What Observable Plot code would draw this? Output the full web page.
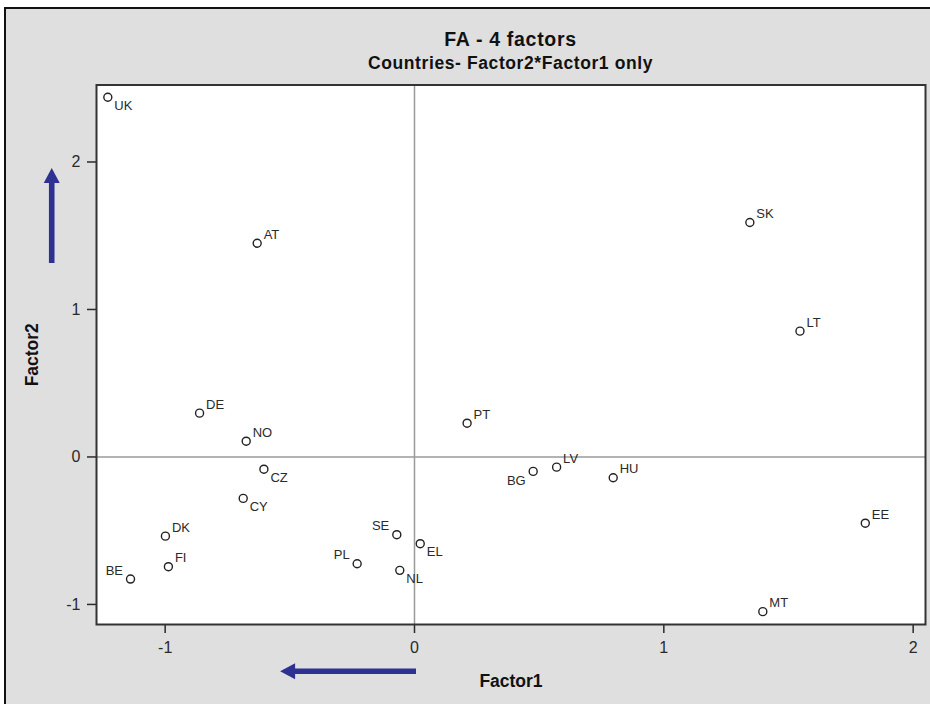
<!DOCTYPE html>
<html>
<head>
<meta charset="utf-8">
<script src="https://cdn.jsdelivr.net/npm/d3@7"></script>
<script src="https://cdn.jsdelivr.net/npm/@observablehq/plot@0.6"></script>
<style>
  html, body { margin: 0; padding: 0; background: #ffffff; }
  body { width: 930px; height: 704px; position: relative; overflow: hidden;
         font-family: "Liberation Sans", Arial, Helvetica, sans-serif; }
  #bg { position: absolute; left: 4px; top: 7px; right: 0; bottom: 0;
        background: #dfdfdf; border-left: 2px solid #111; border-top: 2px solid #111; }
  .ttl { position: absolute; left: 96px; width: 829px; text-align: center;
         font-weight: bold; color: #111; white-space: nowrap; }
  #title { top: 29.5px; font-size: 19.5px; line-height: 19.5px; letter-spacing: 0.7px; }
  #subtitle { top: 55px; font-size: 17.5px; line-height: 17.5px; letter-spacing: 0.6px; }
  #chart { position: absolute; left: 0; top: 80px; }
  g[aria-label="point-label"] text { letter-spacing: 0.8px; }
  g[aria-label="axis-title"] text { letter-spacing: 0.6px; }
</style>
</head>
<body>
<div id="bg"></div>
<div id="title" class="ttl">FA - 4 factors</div>
<div id="subtitle" class="ttl">Countries- Factor2*Factor1 only</div>
<div id="chart"></div>
<script>
// ---- data ----
const countries = ["UK","AT","SK","LT","DE","NO","PT","CZ","LV","BG","HU","CY","DK","SE","EL","EE","PL","FI","NL","BE","MT"];
const factor1 = [-1.230,-0.631,1.345,1.546,-0.862,-0.675,0.211,-0.604,0.570,0.476,0.797,-0.687,-0.999,-0.071,0.023,1.808,-0.230,-0.987,-0.059,-1.139,1.397];
const factor2 = [2.439,1.449,1.590,0.853,0.297,0.107,0.229,-0.083,-0.069,-0.098,-0.141,-0.281,-0.537,-0.527,-0.588,-0.449,-0.724,-0.744,-0.769,-0.828,-1.049];
// label side relative to its point: ur = upper right, lr = lower right, ul = upper left, ll = lower left
const labelSide = ["lr","ur","ur","ur","ur","ur","ur","lr","ur","ll","ur","lr","ur","ul","lr","ur","ul","ur","lr","ul","ur"];
const xTicks = [-1, 0, 1, 2];
const yTicks = [-1, 0, 1, 2];
const xDomain = [-1.2754, 2.0495];
const yDomain = [-1.136, 2.522];
const xLabel = "Factor1";
const yLabel = "Factor2";
// direction arrows (data coordinates, from tail to tip)
const arrowTail = [[0.008, -1.456], [-1.453, 1.312]];
const arrowTip  = [[-0.537, -1.456], [-1.453, 1.956]];

const rows = countries.map((c, i) => ({country: c, f1: factor1[i], f2: factor2[i], side: labelSide[i]}));

const font = '"Liberation Sans", Arial, Helvetica, sans-serif';
const sideOpts = {
  ur: {textAnchor: "start", dx: 6.5, dy: -8.5},
  lr: {textAnchor: "start", dx: 6.5, dy: 8.5},
  ul: {textAnchor: "end", dx: -7.5, dy: -8.5},
  ll: {textAnchor: "end", dx: -7.5, dy: 9}
};
const labelMarks = Object.keys(sideOpts).map(s =>
  Plot.text(rows.filter(d => d.side === s), {
    x: "f1", y: "f2", text: "country", ...sideOpts[s],
    fontSize: 13, fill: "#2a2a2a", ariaLabel: "point-label"
  })
);

const plot = Plot.plot({
  width: 930, height: 624,
  marginLeft: 96, marginRight: 5, marginTop: 4.5, marginBottom: 80,
  x: {domain: xDomain},
  y: {domain: yDomain},
  style: {background: "transparent", fontFamily: font, overflow: "visible"},
  marks: [
    Plot.frame({fill: "white"}),
    Plot.ruleX([0], {stroke: "#9a9a9a", strokeWidth: 1.5}),
    Plot.ruleY([0], {stroke: "#9a9a9a", strokeWidth: 1.5}),
    Plot.axisX({ticks: xTicks, tickSize: 9, tickPadding: 8, tickFormat: d => String(d),
                fontSize: 16, color: "#2a2a2a", strokeWidth: 1.5, label: null}),
    Plot.axisY({ticks: yTicks, tickSize: 9, tickPadding: 7, tickFormat: d => String(d),
                fontSize: 16, color: "#2a2a2a", strokeWidth: 1.5, label: null}),
    Plot.dot(rows, {x: "f1", y: "f2", r: 4, stroke: "#222", strokeWidth: 1.4, fill: "white"}),
    ...labelMarks,
    Plot.text([xLabel], {frameAnchor: "bottom", textAnchor: "middle", lineAnchor: "middle", dy: 56.5,
                         fontWeight: "bold", fontSize: 17.5, fill: "#111", ariaLabel: "axis-title"}),
    Plot.text([yLabel], {frameAnchor: "left", textAnchor: "middle", lineAnchor: "middle", dx: -64, rotate: -90,
                         fontWeight: "bold", fontSize: 17.5, fill: "#111", ariaLabel: "axis-title"}),
    Plot.frame({stroke: "#333", strokeWidth: 2})
  ]
});
document.getElementById("chart").appendChild(plot);

// draw the filled blue direction arrows through the plot's own scales
const sx = plot.scale("x"), sy = plot.scale("y");
const svg = d3.select(plot.tagName.toLowerCase() === "svg" ? plot : plot.querySelector("svg"));
const gA = svg.append("g").attr("aria-label", "direction-arrows");
const headLen = 15, headHalf = 8, shaftHalf = 2.8;
arrowTail.forEach((t, i) => {
  const x1 = sx.apply(t[0]), y1 = sy.apply(t[1]);
  const x2 = sx.apply(arrowTip[i][0]), y2 = sy.apply(arrowTip[i][1]);
  const len = Math.hypot(x2 - x1, y2 - y1);
  const ux = (x2 - x1) / len, uy = (y2 - y1) / len;
  const nx = -uy, ny = ux;
  const bx = x2 - ux * headLen, by = y2 - uy * headLen;
  const pts = [
    [x1 + nx * shaftHalf, y1 + ny * shaftHalf],
    [bx + nx * shaftHalf, by + ny * shaftHalf],
    [bx + nx * headHalf, by + ny * headHalf],
    [x2, y2],
    [bx - nx * headHalf, by - ny * headHalf],
    [bx - nx * shaftHalf, by - ny * shaftHalf],
    [x1 - nx * shaftHalf, y1 - ny * shaftHalf]
  ];
  gA.append("path").attr("d", "M" + pts.map(p => p.join(",")).join("L") + "Z").attr("fill", "#2e3192");
});
</script>
</body>
</html>
